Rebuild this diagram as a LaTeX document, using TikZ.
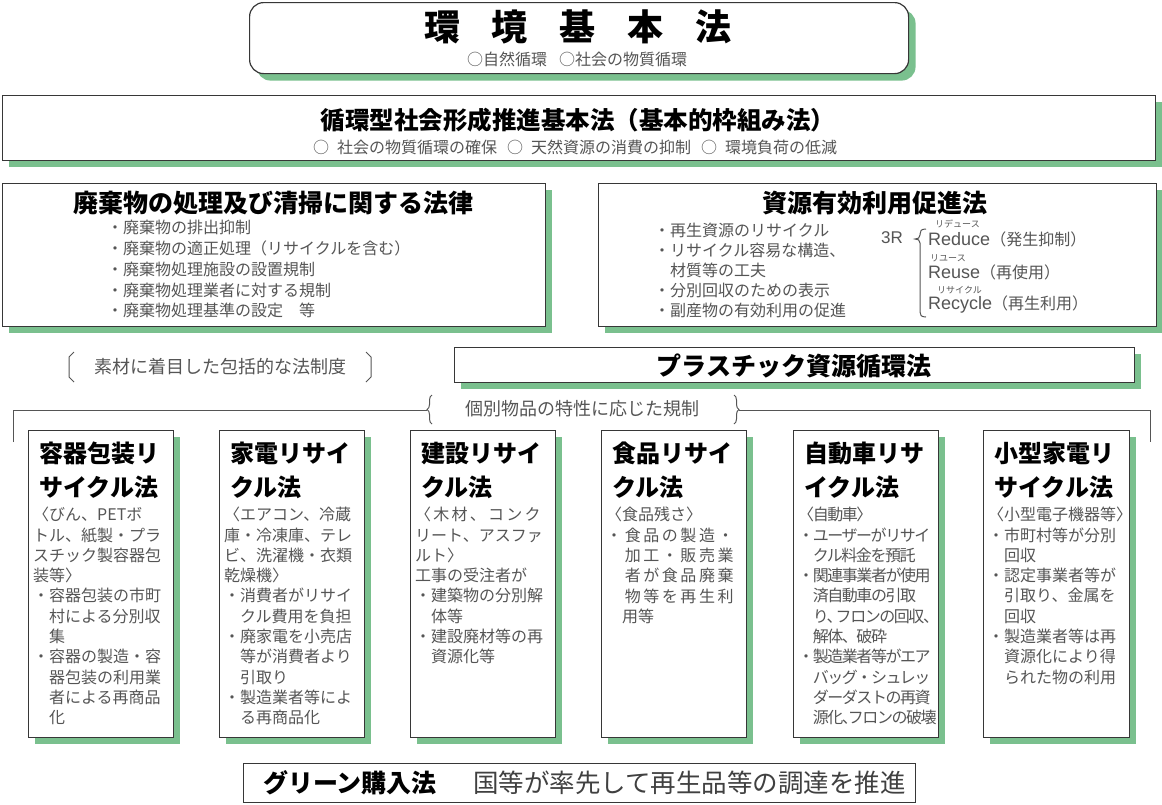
\documentclass[tikz,border=0pt]{standalone}
\usepackage{fontspec}
\setmainfont{Noto Sans CJK JP}
\newfontfamily\latinf{Liberation Sans}
\usetikzlibrary{shadows,decorations.pathreplacing}
\definecolor{sg}{RGB}{122,192,142}
\definecolor{bg}{RGB}{55,55,55}
\definecolor{tg}{RGB}{85,85,85}
\begin{document}
\begin{tikzpicture}[x=1pt,y=-1pt,
  lawbox/.style={draw=bg, line width=1.2pt, fill=white, anchor=north west, inner sep=0pt},
  shadowed/.style={drop shadow={shadow xshift=6.5pt, shadow yshift=-6.5pt, fill=sg, opacity=1}},
  ttl/.style={font=\bfseries\fontsize{25pt}{30pt}\selectfont, inner sep=0pt, text=black},
  sub/.style={font=\fontsize{16pt}{18pt}\selectfont, inner sep=0pt, text=tg},
  body/.style={font=\fontsize{16pt}{20.3pt}\selectfont, inner sep=0pt, text=tg, align=left, anchor=north west},
  btitle/.style={font=\bfseries\fontsize{24pt}{34pt}\selectfont, inner sep=0pt, align=left, anchor=north west},
  ruby/.style={font=\fontsize{9pt}{10pt}\selectfont, inner sep=0pt, text=tg, anchor=west},
  rline/.style={anchor=west, inner sep=0pt, text=tg},
  brk/.style={draw=tg, line width=1pt},
]
\useasboundingbox (0,0) rectangle (1162,804);

% 環境基本法
\node[lawbox, rounded corners=14pt, minimum width=659pt, minimum height=71pt,
  drop shadow={shadow xshift=7pt, shadow yshift=-7pt, fill=sg, opacity=1}] (kankyo) at (249,2) {};
\node[ttl, font=\bfseries\fontsize{36pt}{40pt}\selectfont] (kt) at (578,27) {環\kern32pt 境\kern32pt 基\kern32pt 本\kern32pt 法};
\node[sub] (ks) at (577,59) {○自然循環\hspace{12pt}○社会の物質循環};

% 循環型社会形成推進基本法
\node[lawbox, shadowed, minimum width=1153pt, minimum height=65pt] (junkan) at (2,95) {};
\node[ttl, font=\bfseries\fontsize{24.5pt}{30pt}\selectfont] (jt) at (578,120) {循環型社会形成推進基本法（基本的枠組み法）};
\node[sub] (js) at (575,147) {○\hspace{8pt}社会の物質循環の確保\hspace{10pt}○\hspace{8pt}天然資源の消費の抑制\hspace{10pt}○\hspace{8pt}環境負荷の低減};

% 廃棄物
\node[lawbox, shadowed, minimum width=543pt, minimum height=143pt] (haiki) at (2,183) {};
\node[ttl] (ht) at (273,203) {廃棄物の処理及び清掃に関する法律};
\node[body, font=\fontsize{16pt}{20.8pt}\selectfont] (hb) at (107,220) {・廃棄物の排出抑制\\・廃棄物の適正処理（リサイクルを含む）\\・廃棄物処理施設の設置規制\\・廃棄物処理業者に対する規制\\・廃棄物処理基準の設定　等};

% 資源有効利用促進法
\node[lawbox, shadowed, minimum width=558pt, minimum height=143pt] (shigen) at (598,183) {};
\node[ttl] (st) at (875,203) {資源有効利用促進法};
\node[body, font=\fontsize{16pt}{20pt}\selectfont] (sb) at (654,223) {・再生資源のリサイクル\\・リサイクル容易な構造、\\　材質等の工夫\\・分別回収のための表示\\・副産物の有効利用の促進};
\node[rline, font=\latinf\fontsize{17pt}{20pt}\selectfont] (r3) at (881,238) {3R};
\draw[brk] (926,229) .. controls (921,229) and (920,231) .. (920,234) -- (920,235)
  .. controls (920,238) and (918,239) .. (915,239)
  .. controls (918,239) and (920,240) .. (920,243) -- (920,312)
  .. controls (920,315) and (921,317) .. (926,317);
\node[rline] (red) at (928,239) {{\latinf\fontsize{18pt}{20pt}\selectfont Reduce}{\fontsize{16pt}{20pt}\selectfont（発生抑制）}};
\node[ruby] (redr) at (935,224) {リデュース};
\node[rline] (reu) at (928,272) {{\latinf\fontsize{18pt}{20pt}\selectfont Reuse}{\fontsize{16pt}{20pt}\selectfont（再使用）}};
\node[ruby] (reur) at (930,258) {リユース};
\node[rline] (rec) at (928,305) {{\latinf\fontsize{18pt}{20pt}\selectfont Recycle}{\fontsize{16pt}{20pt}\selectfont（再生利用）}};
\node[ruby] (recr) at (937,290) {リサイクル};

% 素材に着目した包括的な法制度
\node[sub, font=\fontsize{18pt}{20pt}\selectfont] (sozai) at (220,367) {素材に着目した包括的な法制度};
\draw[brk] (74,352) -- (69,357) -- (69,377) -- (74,382);
\draw[brk] (366,352) -- (371,357) -- (371,377) -- (366,382);

% プラスチック資源循環法
\node[lawbox, shadowed, minimum width=680pt, minimum height=35pt] (plastic) at (454,347) {};
\node[ttl] (pt) at (794,366) {プラスチック資源循環法};

% 個別物品の特性に応じた規制
\node[sub, font=\fontsize{18pt}{20pt}\selectfont] (kobetsu) at (582,409) {個別物品の特性に応じた規制};
\coordinate (lEnd) at (13,442);
\coordinate (lCorner) at (13,410);
\coordinate (lTip) at (427,410);
\coordinate (lbB) at (432,424);
\coordinate (lbT) at (432,395);
\coordinate (rbT) at (734,395);
\coordinate (rbB) at (734,424);
\coordinate (rTip) at (739,410);
\coordinate (rCorner) at (1150,410);
\coordinate (rEnd) at (1150,442);
\draw[brk] (lEnd) -- (lCorner) -- (lTip);
\draw[brk, decorate, decoration={brace, amplitude=5pt}] (lbB) -- (lbT);
\draw[brk, decorate, decoration={brace, amplitude=5pt}] (rbT) -- (rbB);
\draw[brk] (rTip) -- (rCorner) -- (rEnd);

% six individual laws
\node[lawbox, shadowed, minimum width=145pt, minimum height=307pt] (b1) at (28,430) {};
\node[btitle] (b1t) at (39,442) {容器包装リ\\サイクル法};
\node[body] (b1b) at (33,507) {〈びん、PETボ\\トル、紙製・プラ\\スチック製容器包\\装等〉\\・容器包装の市町\\　村による分別収\\　集\\・容器の製造・容\\　器包装の利用業\\　者による再商品\\　化};

\node[lawbox, shadowed, minimum width=145pt, minimum height=307pt] (b2) at (219,430) {};
\node[btitle] (b2t) at (230,442) {家電リサイ\\クル法};
\node[body] (b2b) at (224,507) {〈エアコン、冷蔵\\庫・冷凍庫、テレ\\ビ、洗濯機・衣類\\乾燥機〉\\・消費者がリサイ\\　クル費用を負担\\・廃家電を小売店\\　等が消費者より\\　引取り\\・製造業者等によ\\　る再商品化};

\node[lawbox, shadowed, minimum width=145pt, minimum height=307pt] (b3) at (410,430) {};
\node[btitle] (b3t) at (421,442) {建設リサイ\\クル法};
\node[body] (b3b) at (415,507) {{\addfontfeature{LetterSpace=14}〈木材、コンク}\\リート、アスファ\\ルト〉\\工事の受注者が\\・建築物の分別解\\　体等\\・建設廃材等の再\\　資源化等};

\node[lawbox, shadowed, minimum width=145pt, minimum height=307pt] (b4) at (601,430) {};
\node[btitle] (b4t) at (612,442) {食品リサイ\\クル法};
\node[body] (b4b) at (606,507) {〈食品残さ〉\\{\addfontfeature{LetterSpace=16}・食品の製造・}\\{\addfontfeature{LetterSpace=16}　加工・販売業}\\{\addfontfeature{LetterSpace=16}　者が食品廃棄}\\{\addfontfeature{LetterSpace=16}　物等を再生利}\\　用等};

\node[lawbox, shadowed, minimum width=145pt, minimum height=307pt] (b5) at (793,430) {};
\node[btitle] (b5t) at (804,442) {自動車リサ\\イクル法};
\node[body, font=\fontsize{16pt}{20.3pt}\selectfont\addfontfeature{LetterSpace=-9}] (b5b) at (798,507) {〈自動車〉\\・ユーザーがリサイ\\　クル料金を預託\\・関連事業者が使用\\　済自動車の引取\\　り、\kern-7pt フロンの回収、\\　解体、破砕\\・製造業者等がエア\\　バッグ・シュレッ\\　ダーダストの再資\\　源化、\kern-10pt フロンの破壊};

\node[lawbox, shadowed, minimum width=146pt, minimum height=307pt] (b6) at (983,430) {};
\node[btitle] (b6t) at (994,442) {小型家電リ\\サイクル法};
\node[body] (b6b) at (988,507) {〈小型電子機器等〉\\・市町村等が分別\\　回収\\・認定事業者等が\\　引取り、金属を\\　回収\\・製造業者等は再\\　資源化により得\\　られた物の利用};

% グリーン購入法
\node[lawbox, minimum width=672pt, minimum height=39pt] (green) at (243,763) {};
\node[ttl, anchor=west] (gt) at (263,783) {グリーン購入法};
\node[ttl, font=\fontsize{25.5pt}{30pt}\selectfont, anchor=west, text=black!75] (gd) at (473,783) {国等が率先して再生品等の調達を推進};
\end{tikzpicture}
\end{document}
